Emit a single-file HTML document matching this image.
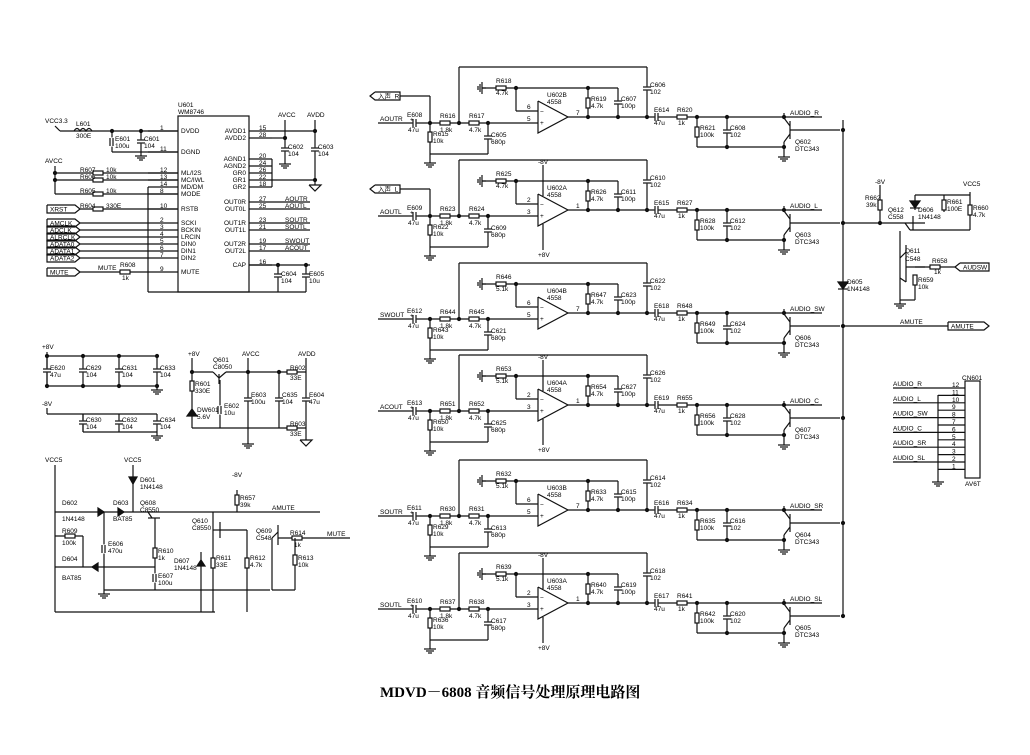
<!DOCTYPE html>
<html><head><meta charset="utf-8">
<style>
html,body{margin:0;padding:0;background:#fff;}
svg{display:block;}
text{font-family:"Liberation Sans","Noto Sans CJK SC",sans-serif;font-size:6.5px;fill:#000;}
.t{font-family:"Liberation Serif","Noto Serif CJK SC",serif;font-size:15px;font-weight:bold;}
</style></head>
<body>
<svg id="s" width="1030" height="755" viewBox="0 0 1030 755" xmlns="http://www.w3.org/2000/svg">
<g id="g" stroke="#111" stroke-width="1.2" fill="none"></g>
<g id="tx"></g>
<text class="t" x="380" y="697">MDVD－6808 音频信号处理原理电路图</text>
</svg>
<script>
var G=document.getElementById('g'),T=document.getElementById('tx'),ns='http://www.w3.org/2000/svg';
function el(p,n,a){var e=document.createElementNS(ns,n);for(var k in a)e.setAttribute(k,a[k]);p.appendChild(e);return e;}
function L(x1,y1,x2,y2){el(G,'line',{x1:x1,y1:y1,x2:x2,y2:y2});}
function P(pts){el(G,'polyline',{points:pts});}
function t(x,y,s,anc){var e=el(T,'text',{x:x,y:y});if(anc)e.setAttribute('text-anchor',anc);e.textContent=s;}
function D(x,y){el(G,'circle',{cx:x,cy:y,r:1.5,fill:'#111'});}
function RH(x,y){el(G,'rect',{x:x-5,y:y-2,width:10,height:4,fill:'#fff'});}
function RV(x,y){el(G,'rect',{x:x-2,y:y-5,width:4,height:10,fill:'#fff'});}
function CV(x,y){el(G,'rect',{x:x-5,y:y-2,width:10,height:3,fill:'#fff',stroke:'#fff'});L(x-4,y-2,x+4,y-2);L(x-4,y+1,x+4,y+1);}
function CH(x,y){el(G,'rect',{x:x-2,y:y-4,width:3,height:8,fill:'#fff',stroke:'#fff'});L(x-2,y-4,x-2,y+4);L(x+1,y-4,x+1,y+4);}
function GND(x,y){L(x,y,x,y+4);L(x-6,y+4,x+6,y+4);L(x-4,y+6,x+4,y+6);L(x-2,y+8,x+2,y+8);}
function GNDL(x,y){L(x,y,x-4,y);L(x-4,y-6,x-4,y+6);L(x-6,y-4,x-6,y+4);L(x-8,y-2,x-8,y+2);}
function TAG(x,y,s,w,dir){var h=4;var pts=dir?(x+','+(y-h)+' '+(x+w)+','+(y-h)+' '+(x+w+5)+','+y+' '+(x+w)+','+(y+h)+' '+x+','+(y+h)+' '+x+','+(y-h)):((x+5)+','+(y-h)+' '+(x+w)+','+(y-h)+' '+(x+w)+','+(y+h)+' '+(x+5)+','+(y+h)+' '+x+','+y+' '+(x+5)+','+(y-h));P(pts);t(x+(dir?3:8),y+2.5,s);}
function NPN(x,y){L(x,y-9,x,y+9);L(x,y,x+50,y);L(x,y-4,x-6,y-12);L(x-6,y-12,x-6,y-17);L(x,y+4,x-6,y+12);L(x-6,y+12,x-6,y+17);}
var ch=[
 {Y:117,in:'AOUTR',tag:'入声_R',E:'E608',Ra:'R616',Rb:'R617',Rg:'R615',Cg:'C605',Rf:'R618',rf:'4.7k',U:'U602B',p:['6','5','7'],R2:'R619',C2:'C607',C3:'C606',E2:'E614',R3:'R620',R4:'R621',C4:'C608',Q:'Q602',A:'AUDIO_R',pw:0},
 {Y:210,in:'AOUTL',tag:'入声_L',E:'E609',Ra:'R623',Rb:'R624',Rg:'R622',Cg:'C609',Rf:'R625',rf:'4.7k',U:'U602A',p:['2','3','1'],R2:'R626',C2:'C611',C3:'C610',E2:'E615',R3:'R627',R4:'R628',C4:'C612',Q:'Q603',A:'AUDIO_L',pw:1},
 {Y:313,in:'SWOUT',E:'E612',Ra:'R644',Rb:'R645',Rg:'R643',Cg:'C621',Rf:'R646',rf:'5.1k',U:'U604B',p:['6','5','7'],R2:'R647',C2:'C623',C3:'C622',E2:'E618',R3:'R648',R4:'R649',C4:'C624',Q:'Q606',A:'AUDIO_SW',pw:0},
 {Y:405,in:'ACOUT',E:'E613',Ra:'R651',Rb:'R652',Rg:'R650',Cg:'C625',Rf:'R653',rf:'5.1k',U:'U604A',p:['2','3','1'],R2:'R654',C2:'C627',C3:'C626',E2:'E619',R3:'R655',R4:'R656',C4:'C628',Q:'Q607',A:'AUDIO_C',pw:1},
 {Y:510,in:'SOUTR',E:'E611',Ra:'R630',Rb:'R631',Rg:'R629',Cg:'C613',Rf:'R632',rf:'5.1k',U:'U603B',p:['6','5','7'],R2:'R633',C2:'C615',C3:'C614',E2:'E616',R3:'R634',R4:'R635',C4:'C616',Q:'Q604',A:'AUDIO_SR',pw:0},
 {Y:603,in:'SOUTL',E:'E610',Ra:'R637',Rb:'R638',Rg:'R636',Cg:'C617',Rf:'R639',rf:'5.1k',U:'U603A',p:['2','3','1'],R2:'R640',C2:'C619',C3:'C618',E2:'E617',R3:'R641',R4:'R642',C4:'C620',Q:'Q605',A:'AUDIO_SL',pw:1}
];
ch.forEach(function(c){var Y=c.Y,yi=Y+6;
 if(c.tag){TAG(370,Y-21,c.tag,30,0);L(400,Y-21,430,Y-21);L(430,Y-21,430,yi);}
 t(380,yi-2,c.in);L(378,yi,538,yi);CH(415,yi);t(407,yi-6,c.E);t(408,yi+9,'47u');t(410,yi-1.5,'+');
 D(430,yi);L(430,yi,430,Y+42);RV(430,Y+20);t(433,Y+19,c.Rg);t(433,Y+26,'10k');GND(430,Y+42);
 RH(445,yi);t(440,yi-5,c.Ra);t(440,yi+9,'1.8k');
 D(459,yi);L(459,yi,459,Y-50);L(459,Y-50,647,Y-50);
 RH(474,yi);t(469,yi-5,c.Rb);t(469,yi+9,'4.7k');
 D(488,yi);L(488,yi,488,Y+37);CV(488,Y+21);t(491,Y+20,c.Cg);t(491,Y+27,'680p');L(430,Y+37,488,Y+37);
 GNDL(486,Y-29);L(482,Y-29,618,Y-29);RH(501,Y-29);t(496,Y-34,c.Rf);t(496,Y-22,c.rf);
 D(516,Y-29);L(516,Y-29,516,Y-6);L(516,Y-6,538,Y-6);
 P('538,'+(Y-16)+' 538,'+(Y+16)+' 568,'+Y+' 538,'+(Y-16));
 t(540,Y-3,'−');t(540,yi+2,'+');t(527,Y-8,c.p[0]);t(527,yi-2,c.p[1]);t(576,Y-2,c.p[2]);
 t(547,Y-20,c.U);t(547,Y-13,'4558');
 if(c.pw){L(543,Y-14,543,Y-45);t(538,Y-46,'-8V');L(543,Y+14,543,Y+40);t(538,Y+47,'+8V');}
 L(568,Y,650,Y);D(588,Y);D(618,Y);D(647,Y);
 L(588,Y-29,588,Y);RV(588,Y-14);t(591,Y-16,c.R2);t(591,Y-9,'4.7k');D(588,Y-29);
 L(618,Y-29,618,Y);CV(618,Y-14);t(621,Y-16,c.C2);t(621,Y-9,'100p');
 L(647,Y-50,647,Y);CV(647,Y-28);t(650,Y-30,c.C3);t(650,Y-23,'102');
 L(650,Y,784,Y);CH(657,Y);t(654,Y-5,c.E2);t(654,Y+8,'47u');
 RH(682,Y);t(677,Y-5,c.R3);t(678,Y+8,'1k');
 D(697,Y);L(697,Y,697,Y+30);RV(697,Y+15);t(700,Y+13,c.R4);t(700,Y+20,'100k');
 D(727,Y);L(727,Y,727,Y+30);CV(727,Y+15);t(730,Y+13,c.C4);t(730,Y+20,'102');
 L(697,Y+30,784,Y+30);D(727,Y+30);
 L(784,Y,822,Y);t(790,Y-2,c.A);D(784,Y);
 NPN(790,Y+13);L(784,Y+30,784,Y+36);D(784,Y+30);GND(784,Y+36);
 t(795,Y+27,c.Q);t(795,Y+34,'DTC343');
 D(843,Y+13);
});
L(843,120,843,617);
el(G,'polygon',{points:'838,282 848,282 843,289',fill:'#111'});L(838,289,848,289);t(847,284,'D605');t(847,291,'1N4148');
L(843,326,948,326);t(900,324,'AMUTE');TAG(948,326,'AMUTE',36,1);
L(843,223,905,223);D(880,223);L(880,223,880,185);RV(880,205);t(865,200,'R662');t(866,207,'39k');t(875,184,'-8V');
L(905,223,910,230);L(910,230,970,230);L(905,223,925,223);L(913,216,913,230);
t(888,212,'Q612');t(888,219,'C558');
L(915,195,970,195);L(915,195,915,210);el(G,'polygon',{points:'910,201 920,201 915,208',fill:'#111'});L(910,208,920,208);
t(918,212,'D606');t(918,219,'1N4148');L(944,195,944,212);RV(944,205);t(947,204,'R661');t(947,211,'100E');
L(970,192,970,230);RV(970,210);t(973,210,'R660');t(973,217,'4.7k');t(963,186,'VCC5');
L(900,231,900,300);L(900,300,915,300);L(915,300,915,275);L(900,258,906,252);L(906,245,906,282);L(906,267,925,267);L(900,278,906,282);
t(905,253,'Q611');t(905,261,'C548');L(915,267,955,267);RH(935,267);t(932,263,'R658');t(934,274,'1k');TAG(955,267,'AUDSW',34,0);
RV(915,280);t(918,282,'R659');t(918,289,'10k');GND(900,300);
el(G,'rect',{x:965,y:381,width:15,height:97});t(962,380,'CN601');t(965,486,'AV6T');
var labs={12:'AUDIO_R',10:'AUDIO_L',8:'AUDIO_SW',6:'AUDIO_C',4:'AUDIO_SR',2:'AUDIO_SL'};
for(var i=12;i>=1;i--){var y=388+(12-i)*7.4;L(938,y,965,y);t(952,y-1,String(i));if(labs[i]){L(893,y,938,y);t(893,y-2,labs[i]);}}
L(938,395,938,478);GND(938,478);
el(G,'rect',{x:178,y:116,width:71,height:176});t(178,107,'U601');t(178,114,'WM8746');
var lp=[['DVDD',131,'1'],['DGND',152,'11'],['ML/I2S',173,'12'],['MC/IWL',180,'13'],['MD/DM',187,'14'],['MODE',194,'8'],['RSTB',209,'10'],['SCKI',223,'2'],['BCKIN',230,'3'],['LRCIN',237,'4'],['DIN0',244,'5'],['DIN1',251,'6'],['DIN2',258,'7'],['MUTE',272,'9']];
lp.forEach(function(p){L(148,p[1],178,p[1]);t(181,p[1]+2,p[0]);t(160,p[1]-1,p[2]);});
var rp=[['AVDD1',131,'15'],['AVDD2',138,'28'],['AGND1',159,'20'],['AGND2',166,'24'],['GR0',173,'26'],['GR1',180,'22'],['GR2',187,'18'],['OUT0R',202,'27'],['OUT0L',209,'25'],['OUT1R',223,'23'],['OUT1L',230,'21'],['OUT2R',244,'19'],['OUT2L',251,'17'],['CAP',265,'16']];
rp.forEach(function(p){L(249,p[1],272,p[1]);t(246,p[1]+2,p[0],'end');t(259,p[1]-1,p[2]);});
L(272,131,315,131);L(272,138,285,138);L(285,120,285,160);CV(285,150);t(288,149,'C602');t(288,156,'104');GND(285,160);t(278,117,'AVCC');
L(315,120,315,185);CV(315,150);t(318,149,'C603');t(318,156,'104');t(307,117,'AVDD');D(315,131);
P('309,185 321,185 315,191 309,185');L(272,159,272,187);L(272,180,315,180);D(315,180);D(285,138);
[['AOUTR',202],['AOUTL',209],['SOUTR',223],['SOUTL',230],['SWOUT',244],['ACOUT',251]].forEach(function(q){L(272,q[1],310,q[1]);t(285,q[1]-1,q[0]);});
L(249,265,310,265);D(278,265);L(278,265,278,292);CV(278,276);t(281,276,'C604');t(281,283,'104');
D(306,265);L(306,265,306,292);CV(306,276);t(309,276,'E605');t(309,283,'10u');
L(148,187,148,292);L(148,292,306,292);
t(45,123,'VCC3.3');L(55,126,60,131);L(60,131,178,131);t(76,126,'L601');t(76,138,'300E');el(G,'path',{d:'M74 131 q3 -5 6 0 q3 -5 6 0 q3 -5 6 0'});
D(112,131);L(112,131,112,152);CH(112,142);t(115,141,'E601');t(115,148,'100u');
D(141,131);L(141,131,141,152);CV(141,142);t(144,141,'C601');t(144,148,'104');L(112,152,178,152);GND(141,152);
t(45,163,'AVCC');L(55,166,55,194);L(55,173,178,173);L(55,180,178,180);L(55,194,178,194);D(55,173);D(55,180);
RH(98,173);RH(98,180);RH(98,194);t(80,172,'R607');t(80,179,'R606');t(80,193,'R605');t(106,172,'10k');t(106,179,'10k');t(106,193,'10k');
TAG(47,209,'XRST',28,1);L(80,209,178,209);t(80,208,'R604');RH(98,209);t(106,208,'330E');
['AMCLK','ADCLK','ALRCLK','ADATA0','ADATA1','ADATA2'].forEach(function(s,i){var y=223+7*i;TAG(47,y,s,28,1);L(80,y,148,y);});
TAG(47,272,'MUTE',28,1);L(80,272,148,272);t(98,270,'MUTE');RH(125,272);t(120,267,'R608');t(122,280,'1k');
t(42,349,'+8V');L(47,352,47,386);L(47,356,157,356);L(47,386,157,386);
[[47,'E620','47u'],[83,'C629','104'],[119,'C631','104'],[157,'C633','104']].forEach(function(c){L(c[0],356,c[0],386);CV(c[0],371);t(c[0]+3,370,c[1]);t(c[0]+3,377,c[2]);D(c[0],356);D(c[0],386);});
GND(157,386);
t(42,406,'-8V');L(47,408,47,414);L(47,414,157,414);L(83,414,83,432);L(83,432,157,432);
[[83,'C630','104'],[119,'C632','104'],[157,'C634','104']].forEach(function(c){L(c[0],414,c[0],432);CV(c[0],423);t(c[0]+3,422,c[1]);t(c[0]+3,429,c[2]);});
GND(157,432);
t(188,356,'+8V');L(192,358,192,428);D(192,372);L(192,372,213,372);t(213,362,'Q601');t(213,369,'C8050');
L(213,372,219,378);L(219,374,219,384);L(219,378,226,372);L(226,372,306,372);L(220,380,220,428);
RV(192,386);t(195,386,'R601');t(195,393,'330E');el(G,'polygon',{points:'187,416 197,416 192,409',fill:'#111'});t(197,412,'DW601');t(197,419,'5.6V');
CH(220,410);t(224,408,'E602');t(224,415,'10u');L(192,428,306,428);
t(242,356,'AVCC');L(248,358,248,440);CV(248,400);t(251,397,'E603');t(251,404,'100u');GND(248,440);D(248,372);
D(279,372);L(279,372,279,428);CV(279,400);t(282,397,'C635');t(282,404,'104');
RH(292,372);t(290,370,'R602');t(290,380,'33E');RH(292,428);t(290,426,'R603');t(290,436,'33E');
t(298,356,'AVDD');L(306,358,306,440);CV(306,400);t(309,397,'E604');t(309,404,'47u');P('300,440 312,440 306,446 300,440');
t(45,462,'VCC5');L(55,465,55,612);L(55,612,215,612);
t(124,462,'VCC5');L(133,465,133,512);el(G,'polygon',{points:'129,477 137,477 133,484',fill:'#111'});t(140,482,'D601');t(140,489,'1N4148');
L(55,512,148,512);el(G,'polygon',{points:'98,508 98,516 104,512',fill:'#111'});t(62,505,'D602');t(62,521,'1N4148');
el(G,'polygon',{points:'118,508 118,516 124,512',fill:'#111'});t(113,505,'D603');t(113,521,'BAT85');
L(148,512,320,512);t(140,505,'Q608');t(140,512,'C8550');L(148,512,152,518);L(148,518,160,518);L(155,518,155,533);
t(272,510,'AMUTE');L(237,490,237,512);t(232,477,'-8V');RV(237,500);t(240,500,'R657');t(240,507,'39k');
L(55,536,83,536);RH(70,536);t(62,533,'R609');t(62,545,'100k');L(83,536,83,567);
L(55,567,155,567);el(G,'polygon',{points:'98,563 98,571 92,567',fill:'#111'});t(62,561,'D604');t(62,580,'BAT85');
L(104,512,104,590);CH(104,549);t(108,546,'E606');t(108,553,'470u');GND(104,590);L(104,590,270,590);
L(155,533,155,590);RV(155,553);t(158,553,'R610');t(158,560,'1k');CH(155,578);t(158,578,'E607');t(158,585,'100u');
L(213,512,213,530);L(213,530,220,530);t(192,523,'Q610');t(192,530,'C8550');L(220,522,220,538);L(220,530,247,530);
L(213,530,213,612);el(G,'polygon',{points:'197,566 205,566 201,560',fill:'#111'});L(201,552,201,612);t(174,563,'D607');t(174,570,'1N4148');
RV(213,563);t(216,560,'R611');t(216,567,'33E');L(247,530,247,612);RV(247,563);t(250,560,'R612');t(250,567,'4.7k');
L(272,538,272,590);L(272,538,278,532);L(278,525,278,545);L(278,538,350,538);t(256,533,'Q609');t(256,540,'C548');
RH(297,538);t(290,535,'R614');t(294,547,'1k');t(327,536,'MUTE');
L(295,538,295,590);RV(295,560);t(298,560,'R613');t(298,567,'10k');L(272,590,295,590);
</script>
</body></html>
